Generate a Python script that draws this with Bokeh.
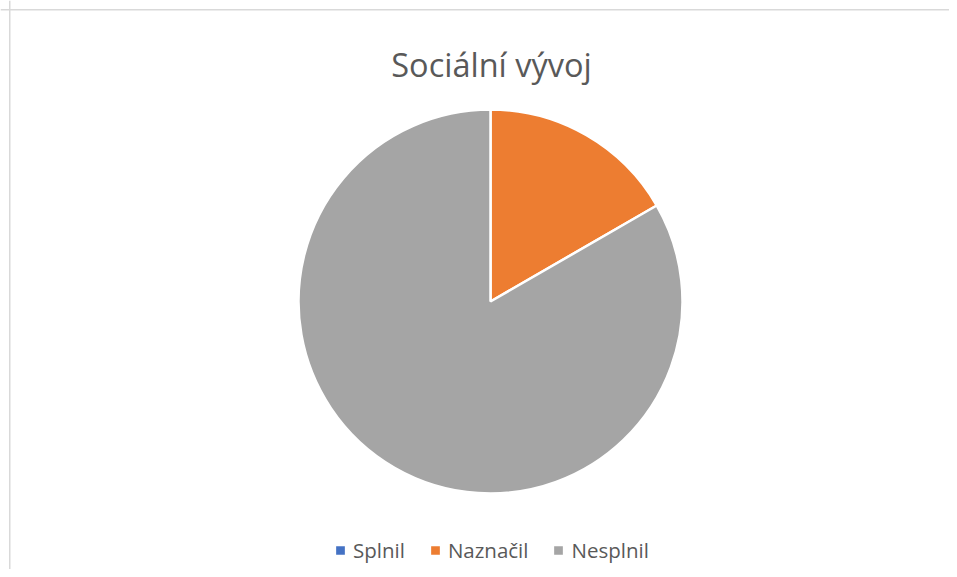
import math
from bokeh.plotting import figure
from bokeh.models import ColumnDataSource, Range1d, Legend, LegendItem, Label, Span
from bokeh.embed import file_html
from bokeh.resources import INLINE

categories = ["Splnil", "Naznačil", "Nesplnil"]
values = [0, 1, 5]
colors = ["#4472C4", "#ED7D31", "#A5A5A5"]
title_text = "Sociální vývoj"

W, H = 949, 569
total = sum(values)
starts, ends = [], []
acc = 0
for v in values:
    starts.append(math.pi / 2 - 2 * math.pi * acc / total)
    acc += v
    ends.append(math.pi / 2 - 2 * math.pi * acc / total)

src = ColumnDataSource(dict(cat=categories, val=values, color=colors, start=starts, end=ends))

p = figure(width=W, height=H, output_backend="svg", toolbar_location=None,
           x_range=Range1d(0, W), y_range=Range1d(0, H), min_border=0,
           outline_line_color=None, background_fill_color="white", border_fill_color="white")
p.axis.visible = False
p.grid.visible = False

cx, cy, r = 490, H - 301, 192
wr = p.wedge(x=cx, y=cy, radius=r, start_angle="start", end_angle="end", direction="clock",
             fill_color="color", line_color="white", line_width=2.5, source=src)

p.add_layout(Span(location=9.25, dimension="height", line_color="#D9D9D9", line_width=1.5))
p.add_layout(Span(location=H - 9.25, dimension="width", line_color="#D9D9D9", line_width=1.5))

p.add_layout(Label(x=491, y=H - 64, text=title_text, text_align="center", text_baseline="alphabetic",
                   text_font="Open Sans", text_font_size="32.5px", text_color="#595959"))

items = [LegendItem(label=c, renderers=[wr], index=i) for i, c in enumerate(categories)]
legend = Legend(items=items, orientation="horizontal", location=(333, 5),
                glyph_width=14, glyph_height=14, label_standoff=6, spacing=23,
                label_text_font="Open Sans", label_text_font_size="20.5px", label_text_color="#595959",
                border_line_color=None, background_fill_alpha=0, padding=4, margin=0)
p.add_layout(legend)

open("out.html", "w").write(file_html(p, INLINE))
